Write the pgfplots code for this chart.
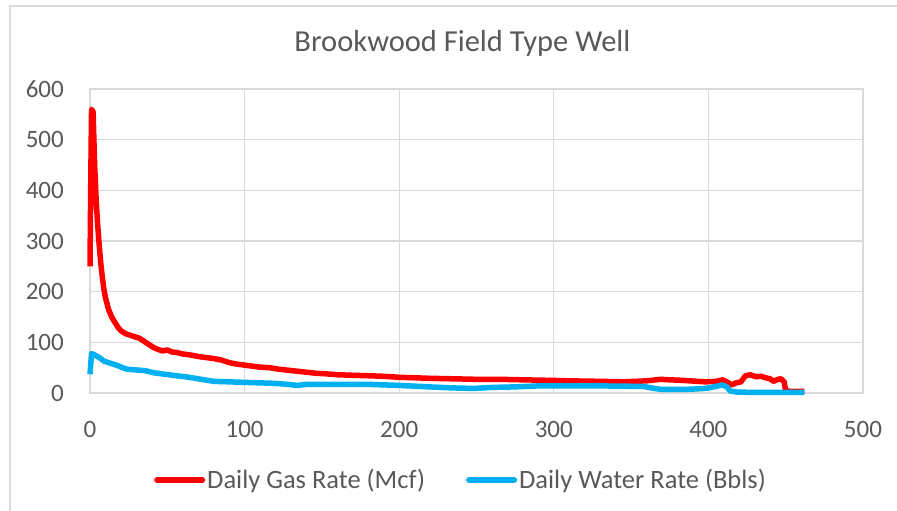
\documentclass[border=0pt]{standalone}
\usepackage{fontspec}
\setmainfont{Carlito}
\usepackage{pgfplots}
\pgfplotsset{compat=1.18}
\definecolor{gasred}{RGB}{255,0,0}
\definecolor{waterblue}{RGB}{0,176,240}
\definecolor{gridgray}{RGB}{217,217,217}
\definecolor{textgray}{RGB}{89,89,89}
\begin{document}
\begin{tikzpicture}[x=1pt,y=1pt]
\useasboundingbox (0,0) rectangle (897,511);
\draw[gridgray,line width=1.5pt] (10,-5) -- (10,505) -- (905,505);
\node[anchor=base,text=textgray,font=\fontsize{30.5}{36}\selectfont] at (462.5,459.3) {Brookwood Field Type Well};
\begin{axis}[
  at={(90pt,118pt)}, anchor=south west,
  scale only axis, width=773pt, height=304pt,
  xmin=0, xmax=500, ymin=0, ymax=600,
  xtick={0,100,...,500}, ytick={0,100,...,600},
  major tick length=0pt,
  grid=major,
  grid style={gridgray, line width=1.3pt},
  axis line style={gridgray, line width=1.3pt},
  clip=false,
  /pgf/number format/assume math mode=true,
  ticklabel style={font=\fontsize{25}{30}\selectfont, text=textgray},
  yticklabel style={inner sep=0pt, anchor=east, xshift=-26pt},
  xticklabel style={inner sep=0pt, anchor=base, yshift=-45pt},
  legend columns=2,
  legend style={at={(0.480,-0.286)}, anchor=center, draw=none, fill=none,
    font=\fontsize{26.5}{31}\selectfont, text=textgray,
    /tikz/every even column/.append style={column sep=39pt},
    nodes={inner sep=2pt}},
  legend image code/.code={\draw[#1, line width=6pt, line cap=round] (0pt,0pt) -- (45pt,0pt);},
]
\addplot[gasred, line width=5.5pt, line join=round] coordinates {
(0,250)(0.5,420)(1,560)(2,555)(3,450)(4,380)(5,330)(6,290)(7,255)(8,228)(9,205)(10,188)
(12,165)(14,150)(16,140)(18,130)(20,123)(23,117)(26,114)(29,111)(32,108)(35,102)
(38,96)(41,90)(44,86)(47,83)(50,85)(53,81)(56,80)(60,77)(65,75)(70,72)(75,70)(80,68)
(85,65)(90,60)(95,57)(100,55)(105,53)(110,51)(116,50)(122,47)(128,45)(134,43)(140,41)
(146,39)(152,38)(160,36)(170,35)(180,34)(190,33)(200,31)(210,30)(220,29)(235,28)
(250,27)(265,27)(280,26)(297,25)(310,24)(330,23)(345,22)(360,24)(369,27)(375,26)
(383,25)(398,22)(405,23)(409,26)(412,22)(415,16)(418,20)(421,22)(424,34)(427,36)
(431,32)(434,33)(437,30)(440,28)(442,23)(445,27)(447,28)(449,22)(450,4)(455,3)(462,3)
};
\addlegendentry{Daily Gas Rate (Mcf)}
\addplot[waterblue, line width=5.5pt, line join=round] coordinates {
(0,37)(1,78)(3,75)(6,70)(9,63)(12,60)(15,57)(18,54)(21,50)(24,47)(28,46)(32,45)
(36,44)(41,40)(46,38)(51,36)(56,34)(62,32)(68,29)(74,26)(80,23)(90,22)(100,21)
(110,20)(120,19)(128,17)(134,15)(140,17)(150,17)(165,17)(180,17)(200,15)(220,12)
(235,10)(248,9)(260,11)(274,12)(290,14)(306,14)(330,14)(358,13)(365,9)(370,7)
(385,7)(398,9)(405,13)(409,16)(412,12)(414,4)(418,2)(430,1)(450,1)(462,1)
};
\addlegendentry{Daily Water Rate (Bbls)}
\end{axis}
\end{tikzpicture}
\end{document}
